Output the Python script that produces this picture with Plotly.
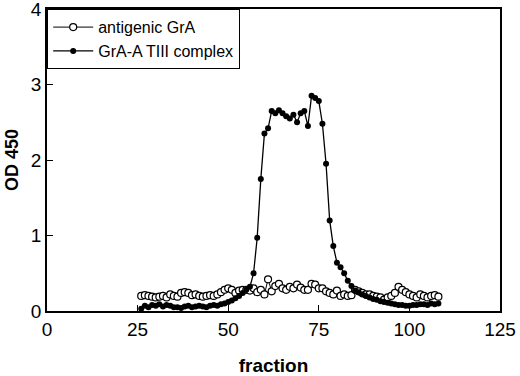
import plotly.graph_objects as go

fractions = list(range(26, 109))

antigenic_gra = [
    0.20, 0.21, 0.20, 0.19, 0.18, 0.19, 0.20, 0.18, 0.22, 0.20,
    0.19, 0.24, 0.25, 0.24, 0.21, 0.22, 0.20, 0.19, 0.20, 0.21,
    0.20, 0.22, 0.25, 0.28, 0.30, 0.28, 0.24, 0.27, 0.28, 0.28,
    0.27, 0.30, 0.25, 0.28, 0.22, 0.42, 0.26, 0.33, 0.36, 0.30,
    0.28, 0.32, 0.30, 0.35, 0.31, 0.28, 0.28, 0.36, 0.35, 0.30,
    0.30, 0.26, 0.24, 0.22, 0.27, 0.20, 0.22, 0.20, 0.21, 0.28,
    0.26, 0.24, 0.22, 0.22, 0.20, 0.19, 0.18, 0.15, 0.18, 0.20,
    0.24, 0.32, 0.28, 0.25, 0.22, 0.20, 0.18, 0.22, 0.20, 0.18,
    0.20, 0.21, 0.19,
]

complex_atiii = [
    0.03, 0.07, 0.05, 0.08, 0.07, 0.09, 0.06, 0.08, 0.07, 0.05,
    0.05, 0.04, 0.06, 0.07, 0.05, 0.06, 0.07, 0.06, 0.05, 0.07,
    0.08, 0.07, 0.09, 0.10, 0.12, 0.14, 0.17, 0.20, 0.24, 0.28,
    0.32, 0.50, 0.97, 1.75, 2.35, 2.42, 2.65, 2.62, 2.66, 2.62,
    2.58, 2.55, 2.60, 2.50, 2.62, 2.65, 2.45, 2.85, 2.82, 2.78,
    2.48, 1.95, 1.20, 0.86, 0.64, 0.58, 0.50, 0.40, 0.33, 0.27,
    0.25, 0.22, 0.20, 0.18, 0.16, 0.15, 0.13, 0.12, 0.11, 0.10,
    0.09, 0.08, 0.08, 0.07, 0.07, 0.08, 0.08, 0.09, 0.09, 0.08,
    0.10, 0.09, 0.10,
]

x_ticks = [0, 25, 50, 75, 100, 125]
y_ticks = [0, 1, 2, 3, 4]

FONT = "Arial, Liberation Sans, sans-serif"

fig = go.Figure()
fig.add_trace(go.Scatter(
    x=fractions, y=antigenic_gra, mode="lines+markers", name="antigenic GrA",
    line=dict(color="black", width=1),
    marker=dict(symbol="circle", size=7, color="white", line=dict(color="black", width=1.2)),
))
fig.add_trace(go.Scatter(
    x=fractions, y=complex_atiii, mode="lines+markers", name="GrA-A TIII complex",
    line=dict(color="black", width=1.3),
    marker=dict(symbol="circle", size=6, color="black"),
))

axis_common = dict(
    showgrid=False, zeroline=False, showline=True, linecolor="black", linewidth=1.5,
    mirror=True, ticks="inside", ticklen=6, tickwidth=1, tickcolor="black",
    tickfont=dict(family=FONT, size=19, color="black"),
    automargin=False, ticklabeloverflow="allow",
)

fig.update_xaxes(range=[0, 125], tickvals=x_ticks, title=dict(
    text="<b>fraction</b>", font=dict(family=FONT, size=19, color="black"),
    standoff=22), **axis_common)
fig.update_yaxes(range=[0, 4], tickvals=y_ticks, ticklabelstandoff=0, title=dict(
    text="<b>OD 450</b>", font=dict(family=FONT, size=18, color="black"),
    standoff=8), **axis_common)

fig.update_layout(
    width=520, height=376,
    margin=dict(l=47, r=20, t=9, b=65),
    paper_bgcolor="white", plot_bgcolor="white",
    showlegend=True,
    legend=dict(
        x=0, y=1, xanchor="left", yanchor="top",
        bordercolor="black", borderwidth=1.2, bgcolor="white",
        font=dict(family=FONT, size=16, color="black"),
        tracegroupgap=0, itemwidth=40,
    ),
)

fig.write_html("out.html", config={"displayModeBar": False},
               post_script="document.body.style.margin='0';")
